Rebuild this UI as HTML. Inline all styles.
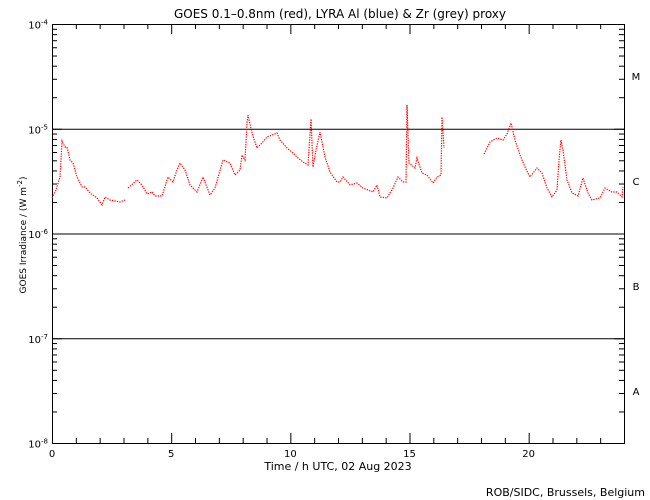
<!DOCTYPE html>
<html><head><meta charset="utf-8"><style>
html,body{margin:0;padding:0;background:#fff;}
svg{display:block;font-family:"DejaVu Sans","Liberation Sans",sans-serif;}
</style></head><body>
<svg id="s" width="650" height="500" xmlns="http://www.w3.org/2000/svg">
<rect width="650" height="500" fill="#fff"/>
<text x="340" y="18" font-size="12" text-anchor="middle">GOES 0.1–0.8nm (red), LYRA Al (blue) &amp; Zr (grey) proxy</text>
<g id="ax" stroke="#000" stroke-width="1" fill="none"></g>
<g id="lb" font-size="10" fill="#000"></g>
<text transform="translate(26,235) rotate(-90)" font-size="9" text-anchor="middle">GOES Irradiance / (W m<tspan dy="-4" font-size="7">-2</tspan><tspan dy="4">)</tspan></text>
<text x="338" y="470" font-size="11" text-anchor="middle">Time / h UTC, 02 Aug 2023</text>
<text x="645" y="496" font-size="11" text-anchor="end">ROB/SIDC, Brussels, Belgium</text>
<text x="636" y="80" font-size="10" text-anchor="middle">M</text>
<text x="636" y="185" font-size="10" text-anchor="middle">C</text>
<text x="636" y="290" font-size="10" text-anchor="middle">B</text>
<text x="636" y="395" font-size="10" text-anchor="middle">A</text>
<g fill="none" stroke="#f00" stroke-width="1.2" stroke-dasharray="1.3 1.2">
<polyline points="52,198 56,190 60,177 62,141 65,147 67,147 70,160 73,163 77,177 82,187 85,187 90,193 97,198 102,205 105,197 110,200 115,201 120,202 125,200"/>
<polyline points="128,188 137,180 142,185 147,194 152,192 155,196 162,196 168,177 173,182 177,170 180,163 185,170 190,185 197,192 203,177 210,195 215,188 223,160 230,163 235,175 240,170 242,155 245,160 247,123 248,115 252,133 257,148 262,143 267,137 277,133 280,140 287,148 293,153 298,158 303,162 308,165 311,119 313,167 316,150 320,132 325,157 330,172 337,182 340,182 343,177 350,185 357,183 363,188 373,192 377,185 380,197 387,198 393,188 398,177 403,182 406,182 407,105 409,163 415,168 417,158 422,173 427,175 433,183 437,177 441,175 442,117 444,148"/>
<polyline points="484,154 490,142 497,138 503,140 507,134 511,123 515,140 520,155 525,167 530,177 537,168 542,173 547,188 552,197 557,190 559,160 561,140 563,150 567,180 572,193 578,196 583,178 588,193 592,200 600,198 605,188 612,192 617,192 622,197 623,187"/>
</g>
</svg>
<script>
var ax=document.getElementById('ax'),lb=document.getElementById('lb');
var L=52,R=624,T=24,B=443,D=(B-T)/4;
function ln(x1,y1,x2,y2){var e=document.createElementNS('http://www.w3.org/2000/svg','line');e.setAttribute('x1',x1);e.setAttribute('y1',y1);e.setAttribute('x2',x2);e.setAttribute('y2',y2);ax.appendChild(e);}
function tx(x,y,s,a,sup){var e=document.createElementNS('http://www.w3.org/2000/svg','text');e.setAttribute('x',x);e.setAttribute('y',y);e.setAttribute('text-anchor',a);e.textContent=s;if(sup){var t=document.createElementNS('http://www.w3.org/2000/svg','tspan');t.setAttribute('dy','-4');t.setAttribute('font-size','7');t.textContent=sup;e.appendChild(t);}lb.appendChild(e);}
var r=document.createElementNS('http://www.w3.org/2000/svg','rect');r.setAttribute('x',L+0.5);r.setAttribute('y',T+0.5);r.setAttribute('width',R-L);r.setAttribute('height',B-T);ax.appendChild(r);
for(var d=1;d<4;d++){var y=T+d*D+0.5;ln(L,y,R,y);}
for(var d=0;d<4;d++){for(var m=2;m<10;m++){var y=T+(d+1)*D-Math.log10(m)*D+0.5;ln(L,y,L+5,y);ln(R-5,y,R,y);}}
for(var d=0;d<=4;d++){var y=T+d*D+0.5;ln(L,y,L+10,y);ln(R-10,y,R,y);tx(L-4,y+4,'10','end','-'+(4+d));}
for(var h=1;h<24;h++){var x=L+h*(R-L)/24+0.5;var len=(h%5==0)?10:5;ln(x,B,x,B-len);ln(x,T,x,T+len);}
for(var h=0;h<=20;h+=5){var x=L+h*(R-L)/24;tx(x,457,String(h),'middle');}
</script>
</body></html>
